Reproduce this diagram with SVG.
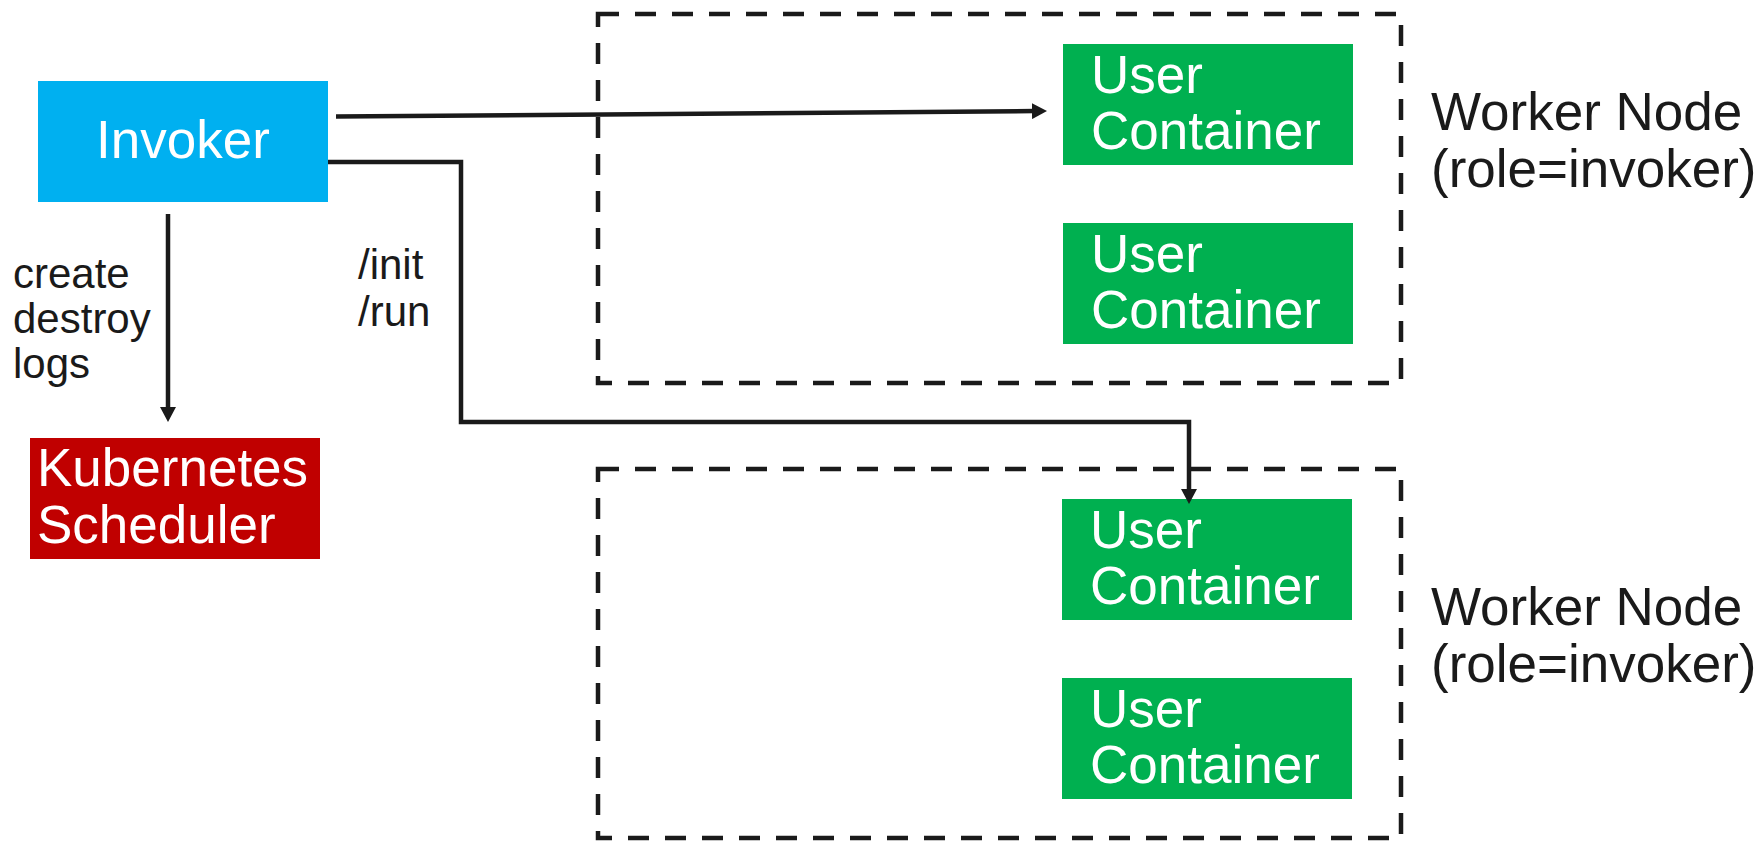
<svg xmlns="http://www.w3.org/2000/svg" width="1759" height="841" viewBox="0 0 1759 841">
  <style>
    .t { font-family: "Liberation Sans", Arial, sans-serif; }
    .w { fill: #ffffff; font-size: 53px; }
    .k { fill: #1a1a1a; }
    .lbl { font-size: 42px; }
    .node { font-size: 53px; }
    .dash { fill: none; stroke: #1a1a1a; stroke-width: 4.5; stroke-dasharray: 21 16; }
    .conn { fill: none; stroke: #1a1a1a; stroke-width: 4.5; }
  </style>
  <defs>
    <marker id="arrow" markerUnits="userSpaceOnUse" markerWidth="16" markerHeight="16" refX="3" refY="8" orient="auto">
      <path d="M0,0 L15,8 L0,16 z" fill="#1a1a1a"/>
    </marker>
  </defs>
  <rect width="1759" height="841" fill="#ffffff"/>

  <g id="worker-node-1">
    <rect class="dash" x="598" y="14" width="803" height="369"/>
    <text class="t k node" x="1431" y="130">Worker Node</text>
    <text class="t k node" x="1431" y="187">(role=invoker)</text>
  </g>
  <g id="worker-node-2">
    <rect class="dash" x="598" y="469" width="803" height="369"/>
    <text class="t k node" x="1431" y="625">Worker Node</text>
    <text class="t k node" x="1431" y="682">(role=invoker)</text>
  </g>

  <g id="invoker">
    <rect x="38" y="81" width="290" height="121" fill="#00B0F0"/>
    <text class="t w" x="183" y="158" text-anchor="middle">Invoker</text>
  </g>
  <g id="kubernetes-scheduler">
    <rect x="30" y="438" width="290" height="121" fill="#C00000"/>
    <text class="t w" x="37" y="486">Kubernetes</text>
    <text class="t w" x="37" y="543">Scheduler</text>
  </g>

  <g id="user-container-1">
    <rect x="1063" y="44" width="290" height="121" fill="#00B050"/>
    <text class="t w" x="1091" y="93">User</text>
    <text class="t w" x="1091" y="149">Container</text>
  </g>
  <g id="user-container-2">
    <rect x="1063" y="223" width="290" height="121" fill="#00B050"/>
    <text class="t w" x="1091" y="272">User</text>
    <text class="t w" x="1091" y="328">Container</text>
  </g>
  <g id="user-container-3">
    <rect x="1062" y="499" width="290" height="121" fill="#00B050"/>
    <text class="t w" x="1090" y="548">User</text>
    <text class="t w" x="1090" y="604">Container</text>
  </g>
  <g id="user-container-4">
    <rect x="1062" y="678" width="290" height="121" fill="#00B050"/>
    <text class="t w" x="1090" y="727">User</text>
    <text class="t w" x="1090" y="783">Container</text>
  </g>

  <g id="connectors">
    <path class="conn" d="M336,116.5 L1035,111.1" marker-end="url(#arrow)"/>
    <path class="conn" d="M328,162 H461 V422 H1189 V492" marker-end="url(#arrow)"/>
    <path class="conn" d="M168,214 V410" marker-end="url(#arrow)"/>
    <text class="t k lbl" x="13" y="288">create</text>
    <text class="t k lbl" x="13" y="333">destroy</text>
    <text class="t k lbl" x="13" y="378">logs</text>
    <text class="t k lbl" x="358" y="279">/init</text>
    <text class="t k lbl" x="358" y="326">/run</text>
  </g>
</svg>
